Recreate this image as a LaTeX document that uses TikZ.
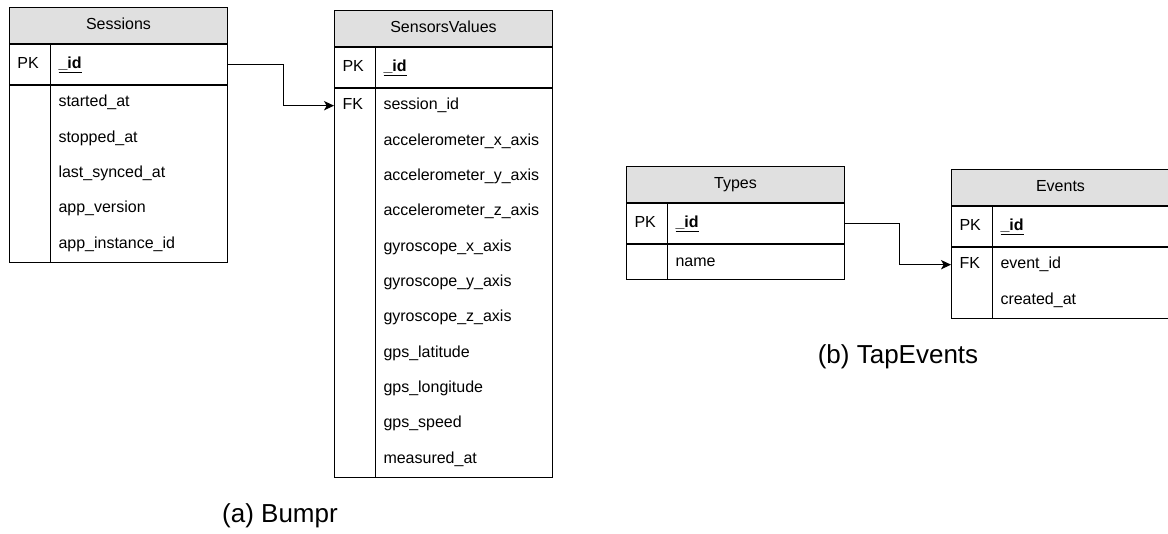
\documentclass[tikz,border=0pt]{standalone}
\usepackage{fontspec}
\setmainfont{Liberation Sans}
\usepackage{tikz}
\usetikzlibrary{arrows.meta, positioning}
\definecolor{headgray}{HTML}{E0E0E0}
\tikzset{
  tblhead/.style={rectangle, draw, fill=headgray, anchor=north west,
                  minimum width=163.5pt, minimum height=27pt, inner sep=0pt,
                  text height=8.6pt, text depth=2.5pt, font=\fontsize{12}{14}\selectfont},
  keyrow/.style={rectangle, draw, minimum width=163.5pt, minimum height=30pt,
                 inner sep=0pt},
  fieldbox/.style={rectangle, draw, minimum width=163.5pt, inner sep=0pt},
  lbl/.style={anchor=west, inner sep=0pt, text height=8.6pt, text depth=2.5pt,
              font=\fontsize{12}{14}\selectfont},
  subcap/.style={inner sep=0pt, font=\fontsize{19.5}{23}\selectfont},
  arrow/.style={-{Stealth[length=7.5pt, width=7pt, inset=2pt]}},
}
\newcommand{\keyid}{\underline{\textbf{\_id}}}

\begin{document}
\begin{tikzpicture}[x=0.75pt, y=-0.75pt, line width=0.75pt]
  \useasboundingbox (0,0) rectangle (1168,533);

  % Sessions table
  \node[tblhead] (sess) at (9,7) {Sessions};
  \node[keyrow, below=0pt of sess] (sesspk) {};
  \node[fieldbox, minimum height=132.5pt, below=0pt of sesspk] (sessbody) {};
  \draw ([xshift=30.75pt]sesspk.north west) -- ([xshift=30.75pt]sessbody.south west);
  \node[lbl] (sesspkl) at ([xshift=6pt]sesspk.west) {PK};
  \node[lbl] (sessid) at ([xshift=36.75pt]sesspk.west) {\keyid};
  \foreach \f [count=\i] in {started\_at, stopped\_at, last\_synced\_at,
                             app\_version, app\_instance\_id}
    \node[lbl] (sessf\i) at ([xshift=36.75pt, yshift={-(\i-0.5)*26.5pt}]sessbody.north west) {\f};

  % SensorsValues table
  \node[tblhead] (sens) at (334,10) {SensorsValues};
  \node[keyrow, below=0pt of sens] (senspk) {};
  \node[fieldbox, minimum height=291.5pt, below=0pt of senspk] (sensbody) {};
  \draw ([xshift=30.75pt]senspk.north west) -- ([xshift=30.75pt]sensbody.south west);
  \node[lbl] (senspkl) at ([xshift=6pt]senspk.west) {PK};
  \node[lbl] (sensid) at ([xshift=36.75pt]senspk.west) {\keyid};
  \foreach \f [count=\i] in {session\_id, accelerometer\_x\_axis, accelerometer\_y\_axis,
                             accelerometer\_z\_axis, gyroscope\_x\_axis, gyroscope\_y\_axis,
                             gyroscope\_z\_axis, gps\_latitude, gps\_longitude,
                             gps\_speed, measured\_at}
    \node[lbl] (sensf\i) at ([xshift=36.75pt, yshift={-(\i-0.5)*26.5pt}]sensbody.north west) {\f};
  \node[lbl] (sensfk) at ([xshift=6pt]sensbody.west |- sensf1) {FK};

  % Types table
  \node[tblhead] (types) at (626,166) {Types};
  \node[keyrow, below=0pt of types] (typespk) {};
  \node[fieldbox, minimum height=26.5pt, below=0pt of typespk] (typesbody) {};
  \draw ([xshift=30.75pt]typespk.north west) -- ([xshift=30.75pt]typesbody.south west);
  \node[lbl] (typespkl) at ([xshift=6pt]typespk.west) {PK};
  \node[lbl] (typesid) at ([xshift=36.75pt]typespk.west) {\keyid};
  \node[lbl] (typesf1) at ([xshift=36.75pt]typesbody.west) {name};

  % Events table
  \node[tblhead] (ev) at (951,169) {Events};
  \node[keyrow, below=0pt of ev] (evpk) {};
  \node[fieldbox, minimum height=53pt, below=0pt of evpk] (evbody) {};
  \draw ([xshift=30.75pt]evpk.north west) -- ([xshift=30.75pt]evbody.south west);
  \node[lbl] (evpkl) at ([xshift=6pt]evpk.west) {PK};
  \node[lbl] (evid) at ([xshift=36.75pt]evpk.west) {\keyid};
  \foreach \f [count=\i] in {event\_id, created\_at}
    \node[lbl] (evf\i) at ([xshift=36.75pt, yshift={-(\i-0.5)*26.5pt}]evbody.north west) {\f};
  \node[lbl] (evfk) at ([xshift=6pt]evbody.west |- evf1) {FK};

  % Foreign keys
  \draw[arrow] (sesspk.east) -- ++(55,0) |- (sensbody.west |- sensf1);
  \draw[arrow] (typespk.east) -- ++(54,0) |- (evbody.west |- evf1);

  % Captions
  \node[subcap] (capa) at (280,516) {(a) Bumpr};
  \node[subcap] (capb) at (898,357) {(b) TapEvents};
\end{tikzpicture}
\end{document}
